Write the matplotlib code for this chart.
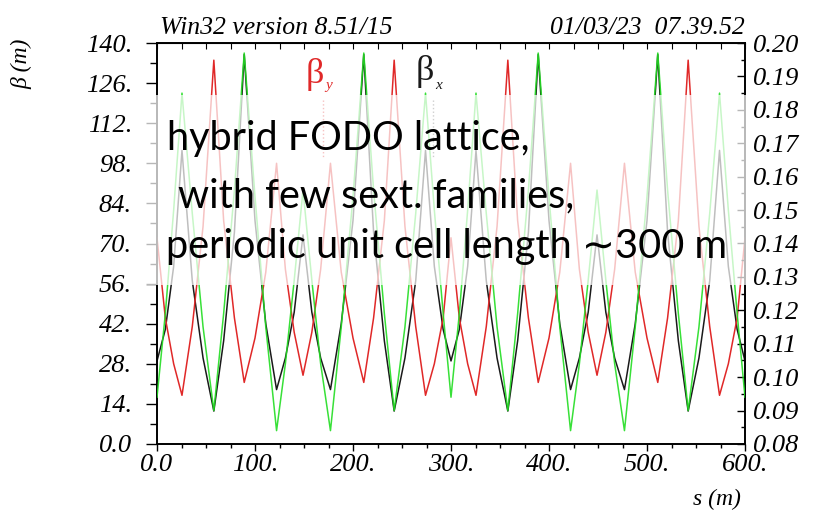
import matplotlib
matplotlib.use('Agg')
import matplotlib.pyplot as plt
from matplotlib.patches import Rectangle
from matplotlib.ticker import FuncFormatter, MultipleLocator

# positions along the ring (m)
s = [0, 8.5, 17, 25.5, 36, 47, 58, 68, 79, 89, 100, 111, 122, 131, 140, 149,
     158, 167, 177, 188, 200, 211, 221, 232, 242, 253, 264, 274, 283, 292, 300,
     308.5, 317, 325.5, 336, 347, 358, 368, 379, 389, 400, 411, 422, 431, 440, 449,
     458, 467, 477, 488, 500, 511, 521, 532, 542, 553, 564, 574, 583, 592, 600]

# beta_y (red), m
beta_y = [72, 44, 28, 17, 41, 76, 134, 78, 44, 21.5, 37, 60, 98, 61, 39, 24,
          39, 61, 98, 60, 37, 21.5, 44, 78, 134, 76, 41, 17, 28, 44, 72,
          44, 28, 17, 41, 76, 134, 78, 44, 21.5, 37, 60, 98, 61, 39, 24,
          39, 61, 98, 60, 37, 21.5, 44, 78, 134, 76, 41, 17, 28, 44, 72]

# beta_x (black), m
beta_x = [29, 40, 62, 102.5, 57, 30, 11.5, 36, 74, 136, 78, 42, 19, 30, 46, 73,
          46, 30, 19, 42, 78, 136, 74, 36, 11.5, 30, 57, 102.5, 62, 40, 29,
          40, 62, 102.5, 57, 30, 11.5, 36, 74, 136, 78, 42, 19, 30, 46, 73,
          46, 30, 19, 42, 78, 136, 74, 36, 11.5, 30, 57, 102.5, 62, 40, 29]

# green curve, read on the right axis
disp = [0.094, 0.119, 0.150, 0.185, 0.149, 0.115, 0.090, 0.119, 0.156, 0.197, 0.154, 0.115, 0.084, 0.104, 0.129, 0.156,
        0.129, 0.104, 0.084, 0.115, 0.154, 0.197, 0.156, 0.119, 0.090, 0.115, 0.149, 0.185, 0.150, 0.119, 0.094,
        0.119, 0.150, 0.185, 0.149, 0.115, 0.090, 0.119, 0.156, 0.197, 0.154, 0.115, 0.084, 0.104, 0.129, 0.156,
        0.129, 0.104, 0.084, 0.115, 0.154, 0.197, 0.156, 0.119, 0.090, 0.115, 0.149, 0.185, 0.150, 0.119, 0.094]

plt.rcParams['font.family'] = ['Liberation Serif', 'DejaVu Serif']
plt.rcParams['font.style'] = 'italic'

fig = plt.figure(figsize=(8.32, 5.12), dpi=100)
ax = fig.add_axes([157 / 832, 1 - 444 / 512, 588 / 832, 401 / 512])

ax.plot(s, beta_x, color='#1a1a1a', lw=1.1, zorder=2)
ax.plot(s, beta_y, color='#e02828', lw=1.1, zorder=3)

ax.set_xlim(0, 600)
ax.set_ylim(0, 140)
ax.xaxis.set_major_locator(MultipleLocator(100))
ax.xaxis.set_minor_locator(MultipleLocator(25))
ax.yaxis.set_major_locator(MultipleLocator(14))
ax.yaxis.set_minor_locator(MultipleLocator(7))
ax.xaxis.set_major_formatter(FuncFormatter(lambda v, p: '0.0' if v == 0 else '%d.' % v))
ax.yaxis.set_major_formatter(FuncFormatter(lambda v, p: '0.0' if v == 0 else '%d.' % v))
ax.tick_params(axis='y', which='major', direction='out', length=8, width=1, labelsize=19, pad=10, right=False)
ax.tick_params(axis='y', which='minor', direction='out', length=5, width=1, right=False)
ax.tick_params(axis='x', which='major', direction='out', length=5, width=1, labelsize=19, pad=2, top=False)
ax.tick_params(axis='x', which='minor', direction='out', length=3, width=1, top=False)

top = ax.secondary_xaxis('top')
top.xaxis.set_major_locator(MultipleLocator(25))
top.tick_params(direction='in', length=4, labeltop=False)

ax2 = ax.twinx()
ax2.plot(s, disp, color='#22dd22', lw=1.1, alpha=0.9, zorder=4)
ax2.set_ylim(0.08, 0.20)
ax2.yaxis.set_major_locator(MultipleLocator(0.01))
ax2.yaxis.set_minor_locator(MultipleLocator(0.005))
ax2.yaxis.set_major_formatter(FuncFormatter(lambda v, p: '%.2f' % v))
ax2.tick_params(axis='y', which='major', direction='in', length=6, width=1, labelsize=19, pad=6)
ax2.tick_params(axis='y', which='minor', direction='in', length=3, width=1)

for a in (ax, ax2):
    for sp in a.spines.values():
        sp.set_linewidth(1.2)

# curve labels
ax.text(161, 129, 'β', color='#e02828', fontsize=26, style='normal', ha='center', va='center')
ax.text(175, 125, 'y', color='#e02828', fontsize=11, ha='center', va='center')
ax.plot([169, 169], [120, 100], color='#e02828', lw=1, ls=':')
ax.text(273, 130, 'β', color='#1a1a1a', fontsize=26, style='normal', ha='center', va='center')
ax.text(287, 125, 'x', color='#1a1a1a', fontsize=11, ha='center', va='center')
ax.plot([281.5, 281.5], [120, 100], color='#555555', lw=1, ls=':')

fig.text(160 / 832, 1 - 34 / 512, 'Win32 version 8.51/15', fontsize=18.5, va='baseline', ha='left')
fig.text(745 / 832, 1 - 34 / 512, '01/03/23  07.39.52', fontsize=18.5, va='baseline', ha='right')
fig.text(22 / 832, 1 - 64 / 512, 'β (m)', fontsize=17, rotation=90, ha='center', va='center')
fig.text(717 / 832, 1 - 505 / 512, 's (m)', fontsize=17, ha='center', va='baseline')

# slide overlay
fig.add_artist(Rectangle((146 / 832, 1 - 285 / 512), (750 - 146) / 832, (285 - 95) / 512,
                         transform=fig.transFigure, facecolor='white', edgecolor='none',
                         alpha=0.72, zorder=5))
for txt, x, y in [('hybrid FODO lattice,', 167, 150),
                  ('with few sext. families,', 178, 207),
                  ('periodic unit cell length ∼300 m', 166, 258)]:
    fig.text(x / 832, 1 - y / 512, txt, fontsize=28.5, family=['Lato', 'DejaVu Sans'], style='normal',
             color='black', va='baseline', ha='left', zorder=6)

fig.savefig('out.png', dpi=100)
